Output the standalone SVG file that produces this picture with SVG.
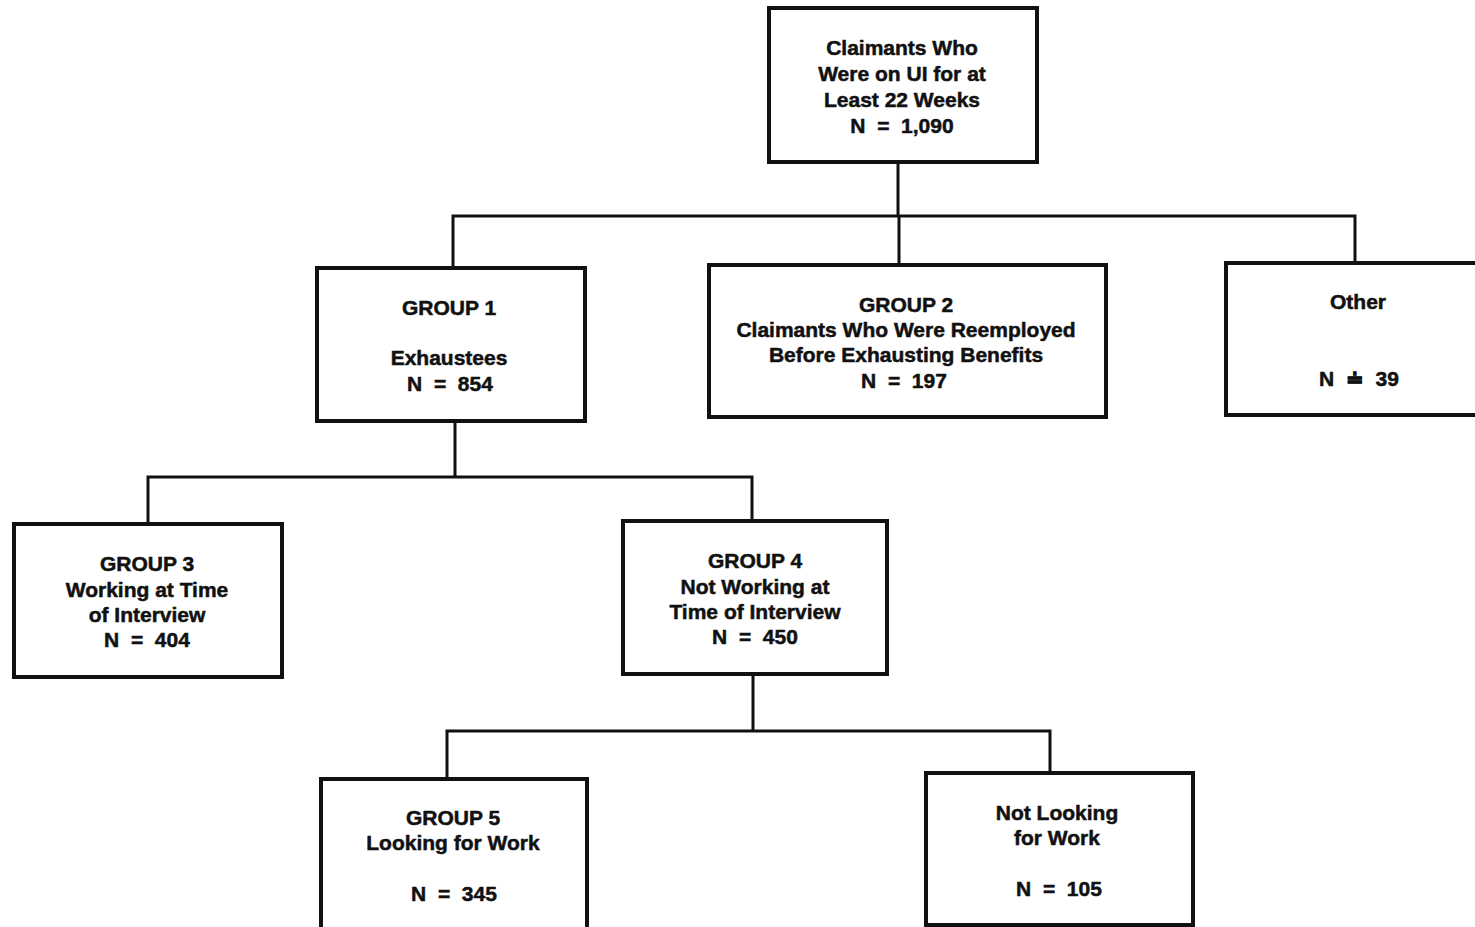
<svg xmlns="http://www.w3.org/2000/svg" width="1475" height="927" viewBox="0 0 1475 927">
<style>
.box{fill:#fff;stroke:#111;stroke-width:4}
.ln{fill:none;stroke:#111;stroke-width:3}
text{font-family:"Liberation Sans",Arial,sans-serif;font-weight:bold;font-size:21px;fill:#111;stroke:#111;stroke-width:0.5;text-anchor:middle}
</style>
<rect width="1475" height="927" fill="#fff"/>
<g id="connectors">
<path class="ln" d="M898 162V216M453 268V216H1355V263M899 216V265"/>
<path class="ln" d="M455 422V477M148 523V477H752V521"/>
<path class="ln" d="M753 674V731M447 779V731H1050V772"/>
</g>
<g id="top">
<rect class="box" x="769" y="8" width="268" height="154"/>
<text x="902" y="55">Claimants Who</text>
<text x="902" y="81">Were on UI for at</text>
<text x="902" y="107">Least 22 Weeks</text>
<text x="902" y="133">N&#160;&#160;=&#160;&#160;1,090</text>
</g>
<g id="group1">
<rect class="box" x="317" y="268" width="268" height="153"/>
<text x="449" y="315">GROUP 1</text>
<text x="449" y="365">Exhaustees</text>
<text x="450" y="391">N&#160;&#160;=&#160;&#160;854</text>
</g>
<g id="group2">
<rect class="box" x="709" y="265" width="397" height="152"/>
<text x="906" y="312">GROUP 2</text>
<text x="906" y="337">Claimants Who Were Reemployed</text>
<text x="906" y="362">Before Exhausting Benefits</text>
<text x="904" y="388">N&#160;&#160;=&#160;&#160;197</text>
</g>
<g id="other">
<rect class="box" x="1226" y="263" width="270" height="152"/>
<text x="1358" y="309">Other</text>
<text x="1359" y="386">N&#160;&#160;≐&#160;&#160;39</text>
</g>
<g id="group3">
<rect class="box" x="14" y="524" width="268" height="153"/>
<text x="147" y="571">GROUP 3</text>
<text x="147" y="597">Working at Time</text>
<text x="147" y="622">of Interview</text>
<text x="147" y="647">N&#160;&#160;=&#160;&#160;404</text>
</g>
<g id="group4">
<rect class="box" x="623" y="521" width="264" height="153"/>
<text x="755" y="568">GROUP 4</text>
<text x="755" y="594">Not Working at</text>
<text x="755" y="619">Time of Interview</text>
<text x="755" y="644">N&#160;&#160;=&#160;&#160;450</text>
</g>
<g id="group5">
<rect class="box" x="321" y="779" width="266" height="170"/>
<text x="453" y="825">GROUP 5</text>
<text x="453" y="850">Looking for Work</text>
<text x="454" y="901">N&#160;&#160;=&#160;&#160;345</text>
</g>
<g id="notlooking">
<rect class="box" x="926" y="773" width="267" height="152"/>
<text x="1057" y="820">Not Looking</text>
<text x="1057" y="845">for Work</text>
<text x="1059" y="896">N&#160;&#160;=&#160;&#160;105</text>
</g>
</svg>
